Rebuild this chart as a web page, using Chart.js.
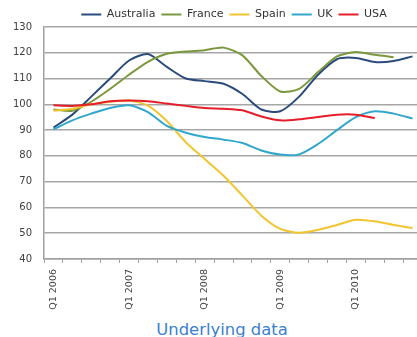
<!DOCTYPE html>
<html>
<head>
<meta charset="utf-8">
<script src="https://cdn.jsdelivr.net/npm/chart.js@4/dist/chart.umd.min.js"></script>
<style>
    html, body { margin: 0; padding: 0; background: #fff; overflow: hidden; }
    #wrap { position: relative; width: 417px; height: 337px; overflow: hidden; }
    #chartIndices { position: absolute; left: 0; top: 0; }
    #lblTitulo { position: absolute; left: 0; top: 320px; width: 444px; text-align: center;
        font-family: "DejaVu Sans", sans-serif; font-size: 16.4px; color: #3a7fd0; }
</style>
</head>
<body>
<div id="wrap">
    <canvas id="chartIndices" width="430" height="318"></canvas>
    <div id="lblTitulo">Underlying data</div>
</div>
<script>
const trimestres = ['Q1 2006', 'Q2 2006', 'Q3 2006', 'Q4 2006',
    'Q1 2007', 'Q2 2007', 'Q3 2007', 'Q4 2007',
    'Q1 2008', 'Q2 2008', 'Q3 2008', 'Q4 2008',
    'Q1 2009', 'Q2 2009', 'Q3 2009', 'Q4 2009',
    'Q1 2010', 'Q2 2010', 'Q3 2010', 'Q4 2010'];
const paises = ['Australia', 'France', 'Spain', 'UK', 'USA'];
const australia = [91, 96, 103, 110, 117, 119.5, 114.5, 110, 109, 108, 104, 98, 97.3, 103, 111.5, 117.5, 118, 116.4, 116.8, 118.6];
const france = [98, 97.5, 101, 106, 111.5, 116.5, 119.6, 120.5, 121, 122, 119, 111, 105, 106, 112.5, 118.6, 120.3, 119.2, 118.3, null];
const spain = [97.5, 98.3, 100, 101, 101.5, 99.5, 93.5, 85.3, 78.8, 72.3, 64.6, 56.8, 51.7, 50.2, 51.3, 53.2, 55.2, 54.6, 53.2, 52];
const uk = [90.3, 93.8, 96.4, 98.6, 99.6, 97, 91.6, 89, 87.3, 86.3, 85, 82.1, 80.5, 80.6, 84.6, 90, 95, 97.3, 96.4, 94.5];
const usa = [99.6, 99.4, 100, 101.2, 101.5, 101.2, 100.3, 99.4, 98.6, 98.3, 97.7, 95.3, 93.8, 94.2, 95.1, 96, 96, 94.7, null, null];
const ticksY = [40, 50, 60, 70, 80, 90, 100, 110, 120, 130];
const colores = ['#2a4b7c', '#7b983c', '#f2c530', '#32a7cc', '#e61e2a'];

// la leyenda del original esta un poco corrida a la derecha y abajo
const moverLeyenda = {
    id: 'moverLeyenda',
    afterLayout: function (chart) {
        let lg = chart.legend;
        lg.left += 20;
        lg.right += 20;
        lg.top += 3;
        lg.bottom += 3;
    }
};

let series = [australia, france, spain, uk, usa];
let ctx = document.getElementById('chartIndices').getContext('2d');
let myChart = new Chart(ctx, {
    type: 'line',
    data: {
        labels: trimestres,
        datasets: series.map(function (s, i) {
            return {
                label: paises[i],
                data: s,
                borderColor: colores[i],
                backgroundColor: colores[i],
                borderWidth: 2,
                pointRadius: 0,
                tension: 0.25,
                spanGaps: false,
                order: 5 - i
            };
        })
    },
    plugins: [moverLeyenda],
    options: {
        responsive: false,
        animation: false,
        layout: { padding: { top: 0, right: 2, left: 0, bottom: 0 } },
        plugins: {
            legend: {
                display: true,
                labels: {
                    usePointStyle: true,
                    pointStyle: 'line',
                    pointStyleWidth: 20,
                    padding: 6,
                    color: '#333',
                    font: { family: 'DejaVu Sans', size: 11 },
                    sort: function (a, b) { return a.datasetIndex - b.datasetIndex; }
                }
            },
            tooltip: { enabled: false }
        },
        scales: {
            x: {
                offset: true,
                grid: { drawOnChartArea: false, drawTicks: true, tickLength: 4, offset: true, color: '#a0a0a0' },
                border: { color: '#a0a0a0', width: 1.5 },
                ticks: {
                    autoSkip: false,
                    maxRotation: 90,
                    minRotation: 90,
                    color: '#404040',
                    padding: 6,
                    font: { family: 'DejaVu Sans', size: 9.5 },
                    callback: function (val, idx) {
                        let t = trimestres[idx];
                        return t.indexOf('Q1') === 0 ? t : '';
                    }
                },
                afterFit: function (scale) { scale.height = 59; }
            },
            y: {
                min: 40,
                max: 130,
                afterBuildTicks: function (scale) { scale.ticks = ticksY.map(function (v) { return { value: v }; }); },
                grid: { color: '#a6a6a6', lineWidth: 1.5, drawTicks: false },
                border: { color: '#a0a0a0', width: 1.5 },
                ticks: {
                    color: '#404040',
                    padding: 12,
                    font: { family: 'DejaVu Sans', size: 10 }
                },
                afterFit: function (scale) { scale.width = 44; }
            }
        }
    }
});
</script>
</body>
</html>
